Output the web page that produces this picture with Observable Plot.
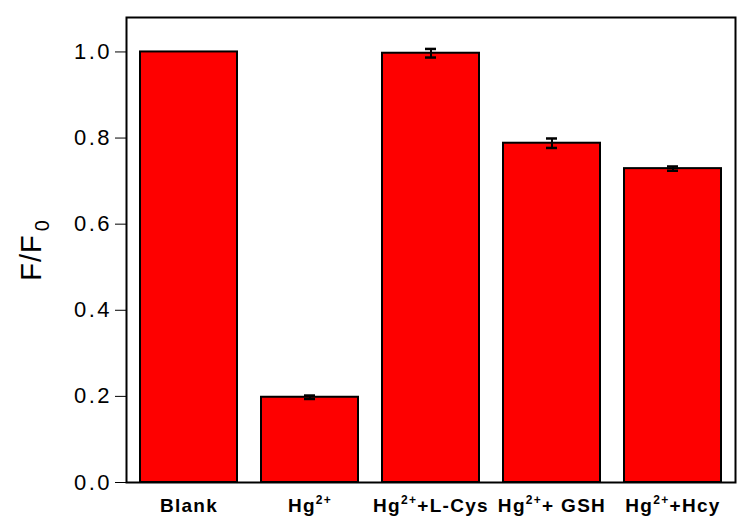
<!DOCTYPE html>
<html>
<head>
<meta charset="utf-8">
<script src="https://cdn.jsdelivr.net/npm/d3@7"></script>
<script src="https://cdn.jsdelivr.net/npm/@observablehq/plot@0.6"></script>
<style>
  html, body { margin: 0; padding: 0; background: #ffffff; }
  #chart svg { display: block; }
</style>
</head>
<body>
<div id="chart"></div>
<script>
// Categories ("^" marks the superscript "2+" part)
const categories = ["Blank", "Hg^2+", "Hg^2+^+L-Cys", "Hg^2+^+ GSH", "Hg^2+^+Hcy"];
// F/F0 values
const values = [1.0, 0.198, 0.997, 0.788, 0.729];
// error bar half-widths
const errors = [0, 0.004, 0.010, 0.011, 0.005];
// y tick values
const yTicks = [0, 0.2, 0.4, 0.6, 0.8, 1.0];

const data = categories.map((c, i) => ({cat: c, v: values[i], e: errors[i]}));
const errData = data.filter(d => d.e > 0);

const chart = Plot.plot({
  width: 737,
  height: 524,
  marginLeft: 126,
  marginRight: 2,
  marginTop: 17,
  marginBottom: 42,
  style: {background: "#ffffff", fontFamily: "'Liberation Sans', Arial, sans-serif", color: "#000"},
  x: {domain: categories, paddingInner: 0.2, paddingOuter: 0.1, label: null, tickSize: 0, tickPadding: 16},
  y: {domain: [0, 1.08], ticks: yTicks, tickFormat: d3.format(".1f"), tickSize: 11, tickPadding: 3.5,
      label: "F/F0", labelAnchor: "center", labelArrow: "none", labelOffset: 106},
  marks: [
    Plot.barY(data, {x: "cat", y: "v", fill: "#fe0000", stroke: "#000", strokeWidth: 2}),
    Plot.ruleX(errData, {x: "cat", y1: d => d.v - d.e, y2: d => d.v + d.e, stroke: "#000", strokeWidth: 2}),
    Plot.tickY(errData, {x: "cat", y: d => d.v - d.e, stroke: "#000", strokeWidth: 2.5, insetLeft: 43, insetRight: 43}),
    Plot.tickY(errData, {x: "cat", y: d => d.v + d.e, stroke: "#000", strokeWidth: 2.5, insetLeft: 43, insetRight: 43}),
    Plot.frame({stroke: "#000", strokeWidth: 2})
  ]
});

document.getElementById("chart").appendChild(chart);

const NS = "http://www.w3.org/2000/svg";
// y tick labels font
chart.querySelectorAll('g[aria-label="y-axis tick label"] text').forEach(t => {
  t.setAttribute("font-size", "22");
  t.setAttribute("letter-spacing", "2.5");
});
// x tick labels with superscripts
chart.querySelectorAll('g[aria-label="x-axis tick label"] text').forEach(t => {
  const s = t.textContent;
  t.setAttribute("font-size", "19");
  t.setAttribute("font-weight", "bold");
  t.setAttribute("letter-spacing", "1.3");
  t.textContent = "";
  const parts = s.split("^");
  parts.forEach((p, i) => {
    if (!p) return;
    const ts = document.createElementNS(NS, "tspan");
    ts.textContent = p;
    if (i % 2 === 1) {
      ts.setAttribute("font-size", "12");
      ts.setAttribute("baseline-shift", "70%");
    }
    t.appendChild(ts);
  });
});
// y axis label with subscript
const yl = chart.querySelector('g[aria-label="y-axis label"] text');
if (yl) {
  const s = yl.textContent;
  yl.setAttribute("font-size", "29");
  yl.setAttribute("letter-spacing", "1");
  yl.textContent = "";
  const a = document.createElementNS(NS, "tspan");
  a.textContent = s.slice(0, -1);
  const b = document.createElementNS(NS, "tspan");
  b.textContent = s.slice(-1);
  b.setAttribute("font-size", "20");
  b.setAttribute("dx", "3");
  b.setAttribute("baseline-shift", "-40%");
  yl.appendChild(a);
  yl.appendChild(b);
}
</script>
</body>
</html>
